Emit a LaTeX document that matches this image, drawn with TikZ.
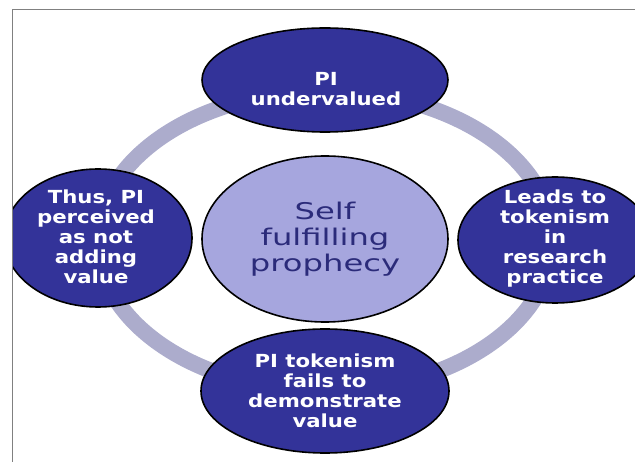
\documentclass[tikz,border=0pt]{standalone}
\usepackage{fontspec}
\usetikzlibrary{shapes.geometric}
\newfontfamily\whitefont{DejaVu Sans}[FakeStretch=1.18]
\newfontfamily\centerfont{DejaVu Sans}[FakeStretch=1.4]
\definecolor{darkblue}{RGB}{51,51,153}
\definecolor{lavender}{RGB}{166,166,222}
\definecolor{ringcol}{RGB}{172,172,204}
\definecolor{navytext}{RGB}{43,43,122}
\definecolor{framegray}{RGB}{128,128,128}
\tikzset{
  outer/.style={ellipse, draw=black, line width=1.6pt, fill=darkblue, text=white,
    inner sep=0pt, align=center},
  inner/.style={ellipse, draw=black, line width=1.6pt, fill=lavender, text=navytext,
    inner sep=0pt, align=center},
  whitelbl/.style={inner sep=0pt, align=center, text=white,
    font=\whitefont\bfseries\fontsize{18}{20}\selectfont},
  centerlbl/.style={inner sep=0pt, align=center, text=navytext,
    font=\centerfont\fontsize{23}{26}\selectfont}
}
\begin{document}
\begin{tikzpicture}[x=1pt,y=-1pt]
\useasboundingbox (0,0) rectangle (635,462);
\fill[white] (0,0) rectangle (635,462);
\begin{scope}
\clip (13,10) rectangle (635,462);
\draw[ringcol, line width=16pt] (325,241) ellipse [x radius=227pt, y radius=150pt];
\node[outer, minimum width=246pt, minimum height=104pt] (top) at (325,80) {};
\node[outer, minimum width=188pt, minimum height=138pt] (left) at (98,238) {};
\node[outer, minimum width=194pt, minimum height=126pt] (right) at (555,240) {};
\node[outer, minimum width=248pt, minimum height=124pt] (bottom) at (325,391) {};
\node[inner, minimum width=246pt, minimum height=166pt] (center) at (325,239) {};
\node[whitelbl] (toptext) at (326,89) {PI\\undervalued};
\node[whitelbl] (lefttext) at (96,237) {Thus, PI\\perceived\\as not\\adding\\value};
\node[whitelbl] (righttext) at (555,239) {Leads to\\tokenism\\in\\research\\practice};
\node[whitelbl] (bottomtext) at (325,391) {PI tokenism\\fails to\\demonstrate\\value};
\node[centerlbl] (centertext) at (325,239) {Self\\fulfilling\\prophecy};
\end{scope}
\coordinate (fa) at (12.5,462);
\coordinate (fb) at (12.5,9.5);
\coordinate (fc) at (635,9.5);
\draw[framegray, line width=1.3pt] (fa) -- (fb) -- (fc);
\end{tikzpicture}
\end{document}
